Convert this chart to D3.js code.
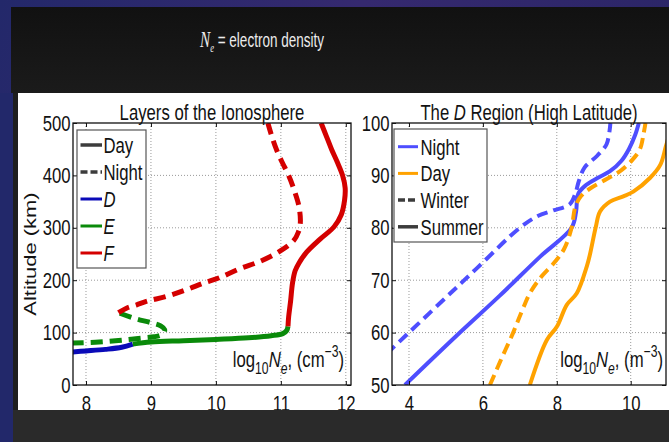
<!DOCTYPE html>
<html>
<head>
<meta charset="utf-8">
<script src="https://cdn.jsdelivr.net/npm/d3@7"></script>
<style>
  html, body { margin: 0; padding: 0; background: #1a1a1a; overflow: hidden; }
  svg { display: block; }
</style>
</head>
<body>
<svg id="chart" width="669" height="442"></svg>
<script>
// ---- Data: log10 electron density vs altitude ----
// Left panel: ionospheric layers, [log10 Ne (cm^-3), altitude km]
const dayD = [[7.78,63],[8.0,65],[8.3,68],[8.55,72],[8.72,78]];
const dayE = [[8.72,78],[9.0,82],[9.5,84.5],[10.0,87],[10.5,90],[10.85,94],[11.03,98],[11.09,104],[11.11,112]];
const dayF = [[11.11,112],[11.12,130],[11.15,160],[11.18,195],[11.22,218],[11.28,233],[11.4,254],[11.6,278],
              [11.82,302],[11.93,325],[11.98,352],[11.99,376],[11.95,400],[11.87,425],[11.78,450],[11.7,475],[11.62,500]];
const nightE = [[7.78,80],[8.2,82],[8.5,85],[8.7,87.5],[8.9,90],[9.05,92],[9.15,95],[9.2,100],[9.21,106],
                [9.15,113],[9.0,119],[8.75,127],[8.5,138]];
const nightF = [[8.5,138],[8.63,147],[8.78,153],[8.94,160],[9.24,169],[9.55,182],[9.8,194],[10.06,205],[10.37,222],
                [10.68,236],[10.98,255],[11.2,276],[11.27,292],[11.3,310],[11.28,340],[11.21,370],[11.12,400],
                [11.02,425],[10.93,450],[10.86,475],[10.8,500]];

// Right panel: high-latitude D region, [log10 Ne (m^-3), altitude km]
const nightSummer = [[3.89,50],[5.3,59.5],[6.45,67],[7.55,74.5],[8.4,80],[8.52,83],[8.58,86.5],[8.8,88.2],
                     [9.1,89.5],[9.44,90.8],[9.75,92.8],[9.95,95],[10.12,97.7],[10.22,100]];
const nightWinter = [[3.4,56],[4.82,65.5],[5.84,72.3],[7.0,80],[7.5,82.3],[7.9,83.3],[8.35,84.5],[8.5,86.5],
                     [8.6,89],[8.75,91.5],[9.1,93.8],[9.35,96],[9.45,100]];
const dayWinter = [[6.19,50],[6.5,55],[6.82,60],[7.05,64],[7.27,67.5],[7.55,70.4],[7.95,73.5],[8.2,76],[8.4,80],
                   [8.5,84],[8.65,86],[8.9,87.5],[9.35,89.3],[9.75,91],[10.05,93],[10.25,95],[10.35,98],[10.4,100]];
const daySummer = [[7.27,50],[7.73,58.6],[8.0,61.1],[8.27,65.3],[8.54,67.5],[8.81,72.6],[8.9,75],[9.05,80],
                   [9.17,83.1],[9.44,85],[9.8,86],[10.07,86.9],[10.52,89.5],[10.8,92],[10.95,95.5],[11.05,98]];

// Tick values and labels
const leftXTicks = [8, 9, 10, 11, 12];
const leftYTicks = [0, 100, 200, 300, 400, 500];
const rightXTicks = [4, 6, 8, 10];
const rightYTicks = [50, 60, 70, 80, 90, 100];
const leftLegendLabels = ["Day", "Night", "D", "E", "F"];
const rightLegendLabels = ["Night", "Day", "Winter", "Summer"];

// ---- Drawing ----
const svg = d3.select("#chart");
const K = 0.76;               // horizontal squeeze applied to the text
const FONT = "'Liberation Sans', Arial, Helvetica, sans-serif";
const INK = "#121212";

const defs = svg.append("defs");
const frame = defs.append("linearGradient").attr("id", "frame").attr("x1", 0).attr("y1", 0).attr("x2", 1).attr("y2", 0.3);
frame.append("stop").attr("offset", 0).attr("stop-color", "#23286a");
frame.append("stop").attr("offset", 0.5).attr("stop-color", "#35296f");
frame.append("stop").attr("offset", 1).attr("stop-color", "#2a2566");
const panel = defs.append("linearGradient").attr("id", "panel").attr("x1", 0).attr("y1", 0).attr("x2", 0).attr("y2", 1);
panel.append("stop").attr("offset", 0).attr("stop-color", "#111111");
panel.append("stop").attr("offset", 0.2).attr("stop-color", "#1b1b1b");
panel.append("stop").attr("offset", 1).attr("stop-color", "#1d1d1d");

svg.append("rect").attr("width", 669).attr("height", 442).attr("fill", "url(#frame)");
svg.append("rect").attr("x", 11).attr("y", 7).attr("width", 658).attr("height", 435).attr("fill", "url(#panel)");
svg.append("rect").attr("x", 18).attr("y", 93).attr("width", 651).attr("height", 317).attr("fill", "#ffffff");

// text squeezed horizontally around its anchor point
function squeezed(parent, x, y, extra = "", k = K) {
  return parent.append("g")
    .attr("transform", `translate(${x},${y}) scale(${k},1) ${extra}`)
    .append("text")
    .attr("font-family", FONT)
    .attr("fill", INK);
}

// slide heading
const heading = squeezed(svg, 200, 47, "", 0.66).attr("fill", "#ececec").attr("font-size", 20.5);
heading.append("tspan").text("N").attr("font-family", "'Liberation Serif', 'Times New Roman', serif")
  .attr("font-style", "italic").attr("font-size", 23);
heading.append("tspan").text("e").attr("font-family", "'Liberation Serif', 'Times New Roman', serif")
  .attr("font-style", "italic").attr("font-size", 13).attr("dy", 5);
heading.append("tspan").text(" = electron density").attr("dy", -5);

function drawPanel(opts) {
  const { x, y, xTicks, yTicks, id } = opts;
  const [xl, xr] = x.range();
  const [yb, yt] = y.range();
  const g = svg.append("g");

  g.append("clipPath").attr("id", id).append("rect")
    .attr("x", xl).attr("y", yt).attr("width", xr - xl).attr("height", yb - yt);

  // dotted grid
  const [dx0, dx1] = x.domain(), [dy0, dy1] = y.domain();
  g.selectAll(".vgrid").data(xTicks.filter(v => v > dx0 && v < dx1)).join("line")
    .attr("x1", d => x(d)).attr("x2", d => x(d)).attr("y1", yt).attr("y2", yb)
    .attr("stroke", "#9a9a9a").attr("stroke-width", 1).attr("stroke-dasharray", "1,2");
  g.selectAll(".hgrid").data(yTicks.filter(v => v > dy0 && v < dy1)).join("line")
    .attr("y1", d => y(d)).attr("y2", d => y(d)).attr("x1", xl).attr("x2", xr)
    .attr("stroke", "#9a9a9a").attr("stroke-width", 1).attr("stroke-dasharray", "1,2");

  // curves
  const line = d3.line().x(d => x(d[0])).y(d => y(d[1])).curve(d3.curveCatmullRom.alpha(0.5));
  const curves = g.append("g").attr("clip-path", `url(#${id})`);
  opts.series.forEach(s => {
    curves.append("path").datum(s.data).attr("d", line)
      .attr("fill", "none").attr("stroke", s.color).attr("stroke-width", s.width)
      .attr("stroke-dasharray", s.dash || null)
      .attr("stroke-linejoin", "round").attr("stroke-linecap", "butt");
  });

  // axes with inward ticks on all four sides
  const fmt = d3.format("d");
  const styleAxis = a => { a.select(".domain").remove(); a.selectAll("line").attr("stroke", INK).attr("stroke-width", 1); };
  const bottom = g.append("g").attr("transform", `translate(0,${yb})`)
    .call(d3.axisBottom(x).tickValues(xTicks).tickFormat(fmt).tickSizeInner(-4).tickSizeOuter(0).tickPadding(10)).call(styleAxis);
  bottom.selectAll("text").attr("transform", `scale(${K},1)`);
  g.append("g").attr("transform", `translate(0,${yt})`)
    .call(d3.axisTop(x).tickValues(xTicks).tickSizeInner(-4).tickSizeOuter(0).tickFormat("")).call(styleAxis);
  const left = g.append("g").attr("transform", `translate(${xl},0)`)
    .call(d3.axisLeft(y).tickValues(yTicks).tickFormat(fmt).tickSizeInner(-4).tickSizeOuter(0).tickPadding(2)).call(styleAxis);
  left.selectAll("text").attr("transform", `scale(${K},1)`).attr("x", -2.5 / K);
  g.append("g").attr("transform", `translate(${xr},0)`)
    .call(d3.axisRight(y).tickValues(yTicks).tickSizeInner(-4).tickSizeOuter(0).tickFormat("")).call(styleAxis);
  g.selectAll(".tick text").attr("font-family", FONT).attr("font-size", 22).attr("fill", INK);

  g.append("rect").attr("x", xl).attr("y", yt).attr("width", xr - xl).attr("height", yb - yt)
    .attr("fill", "none").attr("stroke", INK).attr("stroke-width", 1.3);

  // title
  const t = squeezed(g, (xl + xr) / 2, yt - 3).attr("font-size", 22).attr("text-anchor", "middle");
  opts.title.forEach(part => t.append("tspan").text(part.text).attr("font-style", part.italic ? "italic" : null));

  // unit label, bottom right
  const u = squeezed(g, opts.unitX, 367).attr("font-size", 22).attr("text-anchor", "end");
  u.append("tspan").text("log");
  u.append("tspan").text("10").attr("font-size", 16).attr("dy", 7);
  u.append("tspan").text("N").attr("font-style", "italic").attr("dy", -7);
  u.append("tspan").text("e").attr("font-style", "italic").attr("font-size", 16).attr("dy", 7);
  u.append("tspan").text(", (" + opts.unit).attr("dy", -7);
  u.append("tspan").text("\u22123").attr("font-size", 16).attr("dy", -10);
  u.append("tspan").text(")").attr("dy", 10);

  // legend
  const L = opts.legend;
  g.append("rect").attr("x", L.x).attr("y", L.y).attr("width", L.w).attr("height", L.h)
    .attr("fill", "#fff").attr("stroke", "#555").attr("stroke-width", 1.2);
  L.items.forEach((it, i) => {
    const cy = L.first + i * L.step;
    g.append("line").attr("x1", L.lx0).attr("x2", L.lx1).attr("y1", cy).attr("y2", cy)
      .attr("stroke", it.color).attr("stroke-width", it.width).attr("stroke-dasharray", it.dash || null);
    squeezed(g, L.tx, cy).attr("font-size", 22).attr("dy", "0.36em")
      .attr("font-style", it.italic ? "italic" : null).text(it.label);
  });
}

const RED = "#d40000", GREEN = "#0a8a0a", BLUE = "#0a0ab8", GREY = "#3c3c3c";
const LBLUE = "#4e4eff", ORANGE = "#ffa200";

drawPanel({
  id: "clipLeft",
  x: d3.scaleLinear().domain([7.8, 12.08]).range([73, 351]),
  y: d3.scaleLinear().domain([0, 500]).range([385, 123]),
  xTicks: leftXTicks, yTicks: leftYTicks,
  title: [{ text: "Layers of the Ionosphere" }],
  unit: "cm", unitX: 344,
  series: [
    { data: dayD, color: BLUE, width: 5 },
    { data: nightE, color: GREEN, width: 5, dash: "12,7" },
    { data: dayE, color: GREEN, width: 5 },
    { data: nightF, color: RED, width: 5, dash: "12,7" },
    { data: dayF, color: RED, width: 5 }
  ],
  legend: {
    x: 77, y: 130, w: 69, h: 138, first: 145, step: 27, lx0: 80.5, lx1: 102, tx: 103.5,
    items: [
      { label: leftLegendLabels[0], color: GREY, width: 3.5 },
      { label: leftLegendLabels[1], color: GREY, width: 3.5, dash: "7,3" },
      { label: leftLegendLabels[2], color: BLUE, width: 3, italic: true },
      { label: leftLegendLabels[3], color: GREEN, width: 3, italic: true },
      { label: leftLegendLabels[4], color: RED, width: 3, italic: true }
    ]
  }
});

drawPanel({
  id: "clipRight",
  x: d3.scaleLinear().domain([3.54, 10.955]).range([392, 666]),
  y: d3.scaleLinear().domain([50, 100]).range([385, 123]),
  xTicks: rightXTicks, yTicks: rightYTicks,
  title: [{ text: "The " }, { text: "D", italic: true }, { text: " Region (High Latitude)" }],
  unit: "m", unitX: 663,
  series: [
    { data: nightWinter, color: LBLUE, width: 4, dash: "11,6" },
    { data: nightSummer, color: LBLUE, width: 4 },
    { data: dayWinter, color: ORANGE, width: 4, dash: "11,6" },
    { data: daySummer, color: ORANGE, width: 4 }
  ],
  legend: {
    x: 394, y: 129, w: 93, h: 113, first: 146.7, step: 26.7, lx0: 398, lx1: 418, tx: 420.5,
    items: [
      { label: rightLegendLabels[0], color: LBLUE, width: 3 },
      { label: rightLegendLabels[1], color: ORANGE, width: 3 },
      { label: rightLegendLabels[2], color: GREY, width: 3.5, dash: "7,3" },
      { label: rightLegendLabels[3], color: GREY, width: 3.5 }
    ]
  }
});

// y-axis title of the left panel
squeezed(svg, 36, 254, "rotate(-90)").attr("font-size", 22).attr("text-anchor", "middle").text("Altitude (km)");

// dark footer band and frame edge
svg.append("rect").attr("x", 13).attr("y", 410).attr("width", 656).attr("height", 32).attr("fill", "#2a2a2a");
svg.append("rect").attr("x", 0).attr("y", 93).attr("width", 13).attr("height", 349).attr("fill", "#22286a");
svg.append("rect").attr("x", 13).attr("y", 93).attr("width", 5).attr("height", 317).attr("fill", "#1e1e1e");
</script>
</body>
</html>
